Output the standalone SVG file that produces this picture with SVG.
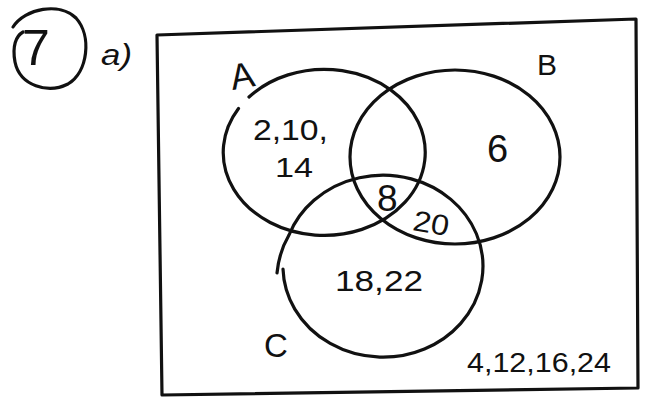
<svg xmlns="http://www.w3.org/2000/svg" width="645" height="399" viewBox="0 0 645 399">
<style>
.ln{fill:none;stroke:#111;stroke-width:3.2;stroke-linecap:round;stroke-linejoin:round}
.t{font-family:"Liberation Sans","DejaVu Sans",sans-serif;fill:#111}
</style>
<rect width="645" height="399" fill="#fff"/>
<g id="title">
<path class="ln" d="M13 27 C25 8 60 2 76 18 C92 36 88 72 68 84 C48 94 20 86 15 62 C12 46 16 36 23 32"/>
<text class="t" x="22" y="65" font-size="50">7</text>
<text class="t" x="101" y="65" font-size="30" font-style="italic" textLength="31" lengthAdjust="spacingAndGlyphs">a)</text>
</g>
<g id="universe">
<path class="ln" d="M157 35 L636 19 L638 388 L162 395 Z"/>
<text class="t" x="467" y="372" font-size="28" textLength="144" lengthAdjust="spacingAndGlyphs">4,12,16,24</text>
</g>
<g id="set-A">
<path class="ln" d="M249 97 A101 83 0 1 1 238.5 108.5"/>
<text class="t" x="230" y="88" font-size="36" transform="rotate(-10 243 75)">A</text>
<text class="t" x="253" y="140" font-size="30" textLength="75" lengthAdjust="spacingAndGlyphs">2,10,</text>
<text class="t" x="275" y="177" font-size="28" textLength="38" lengthAdjust="spacingAndGlyphs">14</text>
</g>
<g id="set-B">
<ellipse class="ln" cx="455" cy="157" rx="105" ry="87"/>
<text class="t" x="537" y="75" font-size="30">B</text>
<text class="t" x="487" y="162" font-size="38">6</text>
</g>
<g id="set-C">
<path class="ln" d="M283 269 A100 91 0 1 0 289 235 Q279 252 277 273"/>
<text class="t" x="264" y="357" font-size="33">C</text>
<text class="t" x="335" y="291" font-size="30" textLength="88" lengthAdjust="spacingAndGlyphs">18,22</text>
</g>
<g id="regions">
<text class="t" x="377" y="211" font-size="37">8</text>
<text class="t" x="413" y="233" font-size="29" textLength="36" lengthAdjust="spacingAndGlyphs" transform="rotate(10 430 224)">20</text>
</g>
<g id="connectors"/>
</svg>
